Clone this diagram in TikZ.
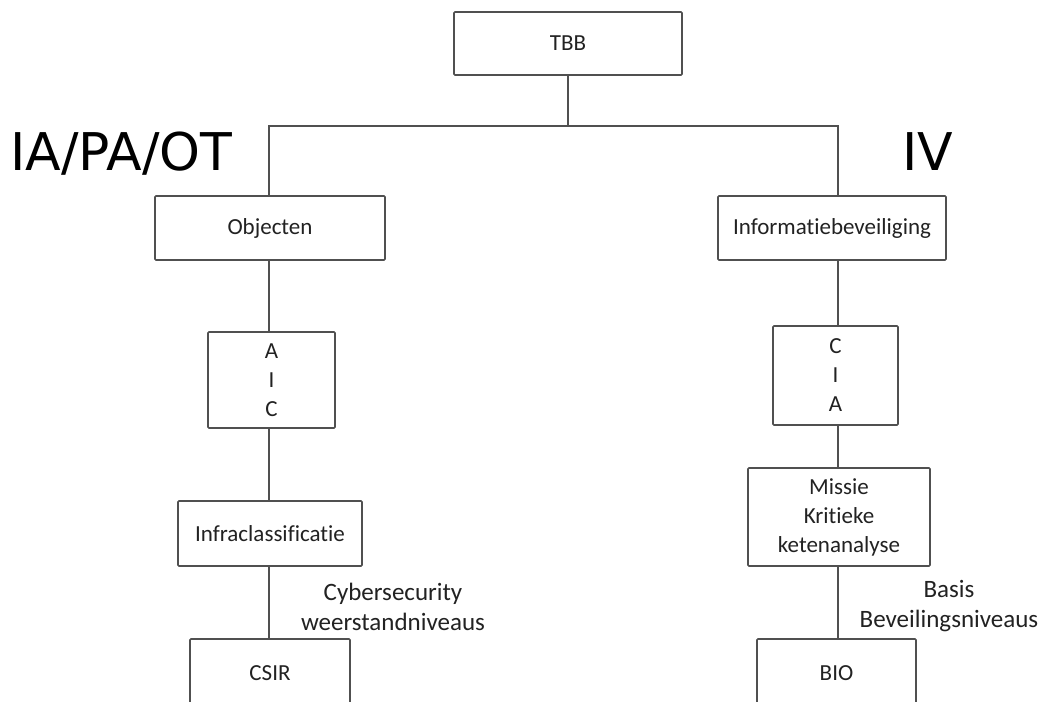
\documentclass[tikz,border=0pt]{standalone}
\usepackage{fontspec}
\setmainfont{Carlito}[Ligatures=NoCommon]
\newfontfamily\bigfont{DejaVu Sans}
\definecolor{linegray}{HTML}{505050}
\definecolor{txt}{HTML}{222222}
\tikzset{
  box/.style={draw=linegray, line width=1.7pt, rounded corners=1pt, fill=white,
    align=center, inner sep=0pt, font=\fontsize{23}{29}\selectfont, text=txt},
  conn/.style={draw=linegray, line width=1.7pt},
  lbl/.style={align=center, inner sep=0pt, font=\fontsize{25}{30}\selectfont, text=txt},
  big/.style={inner sep=0pt, anchor=base west, font=\bigfont\fontsize{52}{58}\selectfont, text=black}
}
\begin{document}
\begin{tikzpicture}[x=1pt,y=-1pt]
\useasboundingbox (0,0) rectangle (1046,701);
\clip (0,0) rectangle (1046,701);
\fill[white] (0,0) rectangle (1046,701);
\coordinate (L) at (269,0);
\coordinate (R) at (838,0);
\coordinate (hub) at (568,126);
\node[box, minimum width=228pt, minimum height=63pt] (tbb) at (568,43.5) {TBB};
\node[box, minimum width=230pt, minimum height=64pt] (obj) at (270,228) {Objecten};
\node[box, minimum width=228pt, minimum height=64pt] (info) at (832,228) {Informatiebeveiliging};
\node[box, minimum width=127pt, minimum height=96pt] (aic) at (271.5,380) {A\\I\\C};
\node[box, minimum width=125pt, minimum height=99pt] (cia) at (835.5,375.5) {C\\I\\A};
\node[box, minimum width=184pt, minimum height=65pt] (infra) at (270,533.5) {Infraclassificatie};
\node[box, minimum width=182pt, minimum height=98pt] (missie) at (839,517) {Missie\\Kritieke\\ketenanalyse};
\node[box, minimum width=160pt, minimum height=68pt] (csir) at (270,673) {CSIR};
\node[box, minimum width=159pt, minimum height=68pt] (bio) at (836.5,673) {BIO};
\draw[conn] (tbb.south) -- (hub);
\draw[conn] (obj.north -| L) |- (hub) -| (info.north -| R);
\draw[conn] (obj.south -| L) -- (aic.north -| L);
\draw[conn] (aic.south -| L) -- (infra.north -| L);
\draw[conn] (infra.south -| L) -- (csir.north -| L);
\draw[conn] (info.south -| R) -- (cia.north -| R);
\draw[conn] (cia.south -| R) -- (missie.north -| R);
\draw[conn] (missie.south -| R) -- (bio.north -| R);
\node[lbl] (cyb) at (393,607) {Cybersecurity\\weerstandniveaus};
\node[lbl] (basis) at (949,606) {Basis\\Beveilingsniveaus};
\node[big] (iapa) at (10,170) {IA/PA/OT};
\node[big] (iv) at (902,170) {IV};
\end{tikzpicture}
\end{document}
